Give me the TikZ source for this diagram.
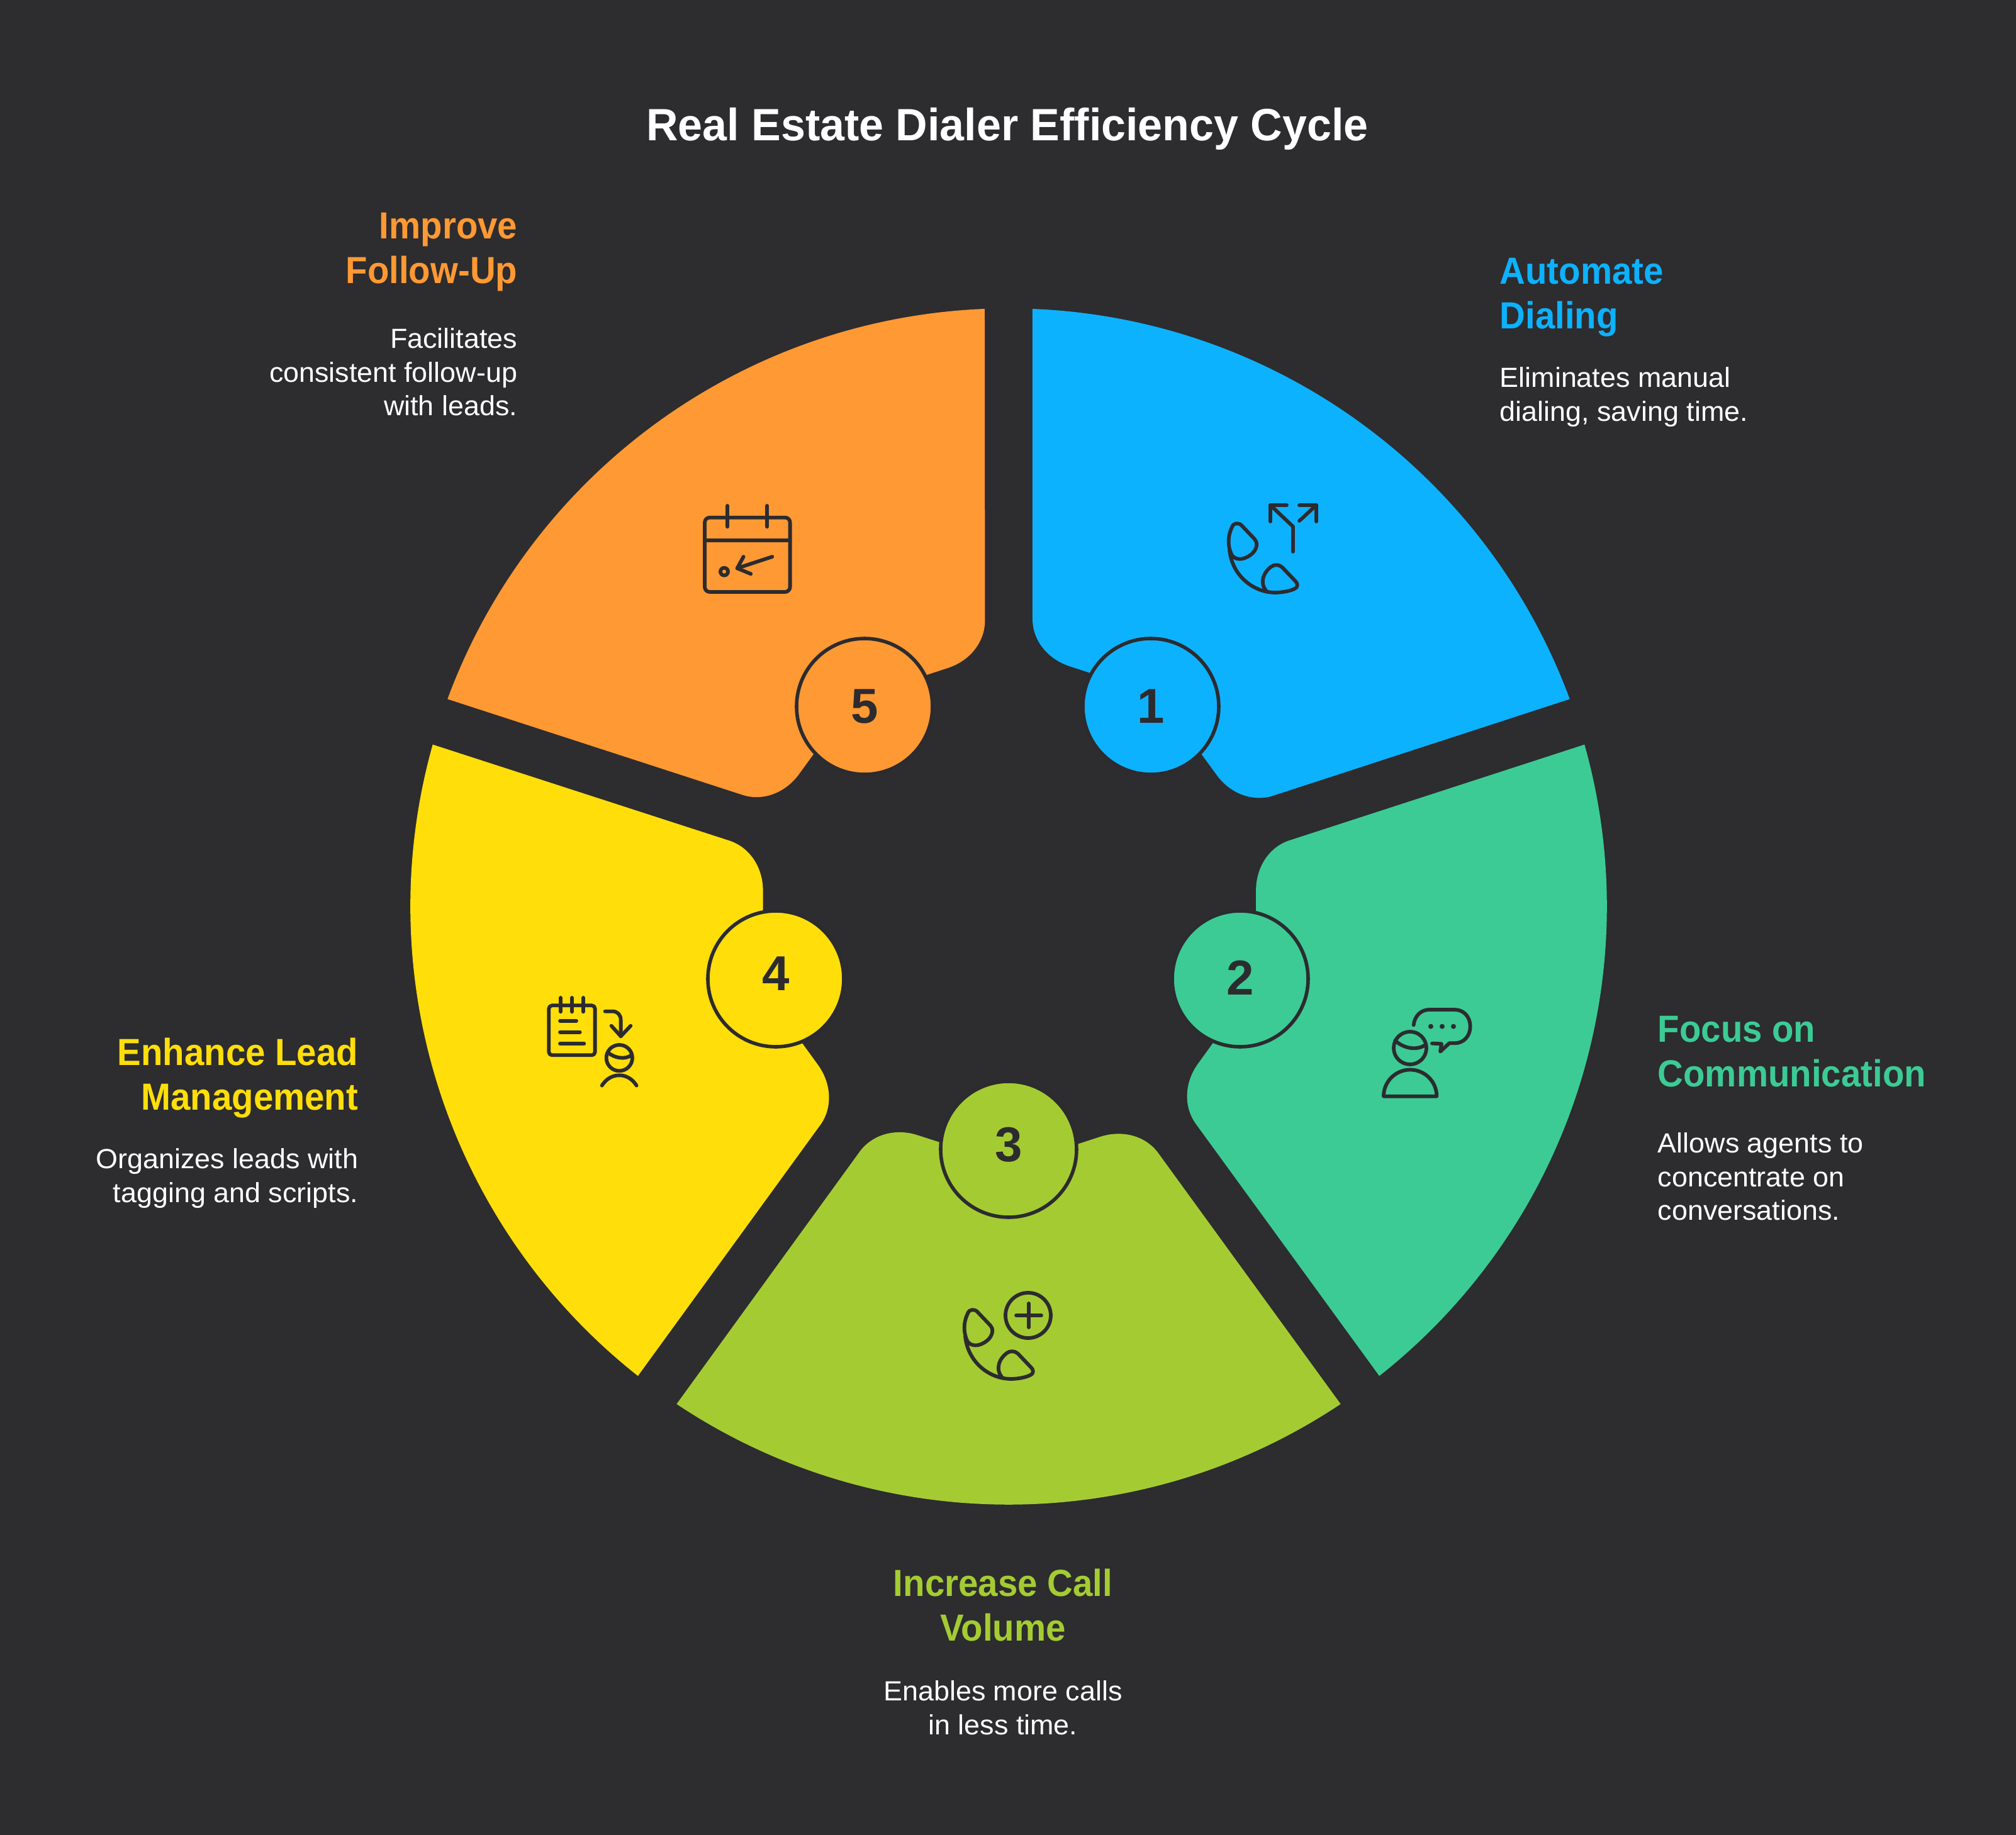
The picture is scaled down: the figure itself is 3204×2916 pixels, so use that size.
\documentclass[tikz,border=0pt]{standalone}
\usepackage{fontspec}
\setmainfont{Liberation Sans}
\newfontfamily\titlefont[FakeStretch=0.972]{Liberation Sans}
\newfontfamily\headfont[FakeStretch=0.94]{Liberation Sans}
\newfontfamily\bodyfont[FakeStretch=1.02]{Liberation Sans}
\usepackage{tikz}
\definecolor{backdrop}{HTML}{2D2C2F}
\definecolor{inkdark}{HTML}{2C2B2F}
\definecolor{bluesec}{HTML}{0DB2FF}
\definecolor{greensec}{HTML}{3CCB95}
\definecolor{limesec}{HTML}{A4CC32}
\definecolor{yellowsec}{HTML}{FFDE0A}
\definecolor{orangesec}{HTML}{FF9933}
\newcommand{\sectorpath}{(38,950) arc (87.71:20.29:950.76) -- (420,176) .. controls (388,166) and (352,179) .. (330,210) -- (238,336) -- (98,381.5) .. controls (62,393) and (38,423) .. (38,457) -- cycle}
\newcommand{\phonepath}{(58,113) .. controls (49,95) and (53,78) .. (58,68) .. controls (60,61) and (69,60) .. (74,66) -- (94,87) .. controls (99,92) and (98,101) .. (92,108) .. controls (84,117) and (67,124) .. (58,113) -- cycle
    (54,104) .. controls (58,145) and (92,172) .. (127,172) .. controls (140,172) and (158,168) .. (161,163) .. controls (163,159) and (161,156) .. (158,153) -- (138,132) .. controls (133,127) and (125,127) .. (120,131) .. controls (110,138) and (100,155) .. (113,170)}
\tikzset{numcircle/.style={draw=inkdark,circle,line width=1.4pt,minimum size=54pt,inner sep=0pt,text=inkdark,font=\fontsize{19.5}{22}\selectfont\bfseries}}
\tikzset{headtext/.style={inner sep=0pt,font=\headfont\fontsize{15}{17.9}\selectfont\bfseries}}
\tikzset{bodytext/.style={inner sep=0pt,text=white,font=\bodyfont\fontsize{11}{13.4}\selectfont}}
\tikzset{iconline/.style={draw=inkdark,line width=1.45pt,line cap=round,line join=round}}

\begin{document}
\begin{tikzpicture}[x=0.25pt, y=0.25pt]
    \useasboundingbox (-1603,1441) rectangle (1601,-1475);
    \fill[backdrop] (-1610,1450) rectangle (1610,-1485);
    % sectors
    \fill[bluesec] \sectorpath;
    \fill[greensec, rotate=-72] \sectorpath;
    \fill[limesec, rotate=-144] \sectorpath;
    \fill[yellowsec, rotate=-216] \sectorpath;
    \fill[orangesec, rotate=-288] \sectorpath;
    % numbers
    \node[numcircle, fill=bluesec] (num1) at (226,318) {1};
    \node[numcircle, fill=greensec] (num2) at (368,-115) {\raisebox{1pt}{2}};
    \node[numcircle, fill=limesec] (num3) at (0,-386) {\raisebox{4pt}{3}};
    \node[numcircle, fill=yellowsec] (num4) at (-370,-115) {\raisebox{4pt}{4}};
    \node[numcircle, fill=orangesec] (num5) at (-229,318) {5};
    % title
    \node[inner sep=0pt, anchor=north, text=white, font=\titlefont\fontsize{18}{22}\selectfont\bfseries] (title) at (-2,1270) {Real Estate Dialer Efficiency Cycle};
    % labels
    \node[headtext, text=bluesec, anchor=north west, align=left] (head1) at (780,1032) {Automate\\Dialing};
    \node[bodytext, anchor=north west, align=left] (body1) at (780,858) {Eliminates manual\\dialing, saving time.};
    \node[headtext, text=greensec, anchor=north west, align=left] (head2) at (1031,-173) {Focus on\\Communication};
    \node[bodytext, anchor=north west, align=left] (body2) at (1031,-359) {Allows agents to\\concentrate on\\conversations.};
    \node[headtext, text=limesec, anchor=north, align=center] (head3) at (-9,-1052) {Increase Call\\Volume};
    \node[bodytext, anchor=north, align=center] (body3) at (-9,-1230) {Enables more calls\\in less time.};
    \node[headtext, text=yellowsec, anchor=north east, align=right] (head4) at (-1033,-208) {Enhance Lead\\Management};
    \node[bodytext, anchor=north east, align=right] (body4) at (-1033,-384) {Organizes leads with\\tagging and scripts.};
    \node[headtext, text=orangesec, anchor=north east, align=right] (head5) at (-780,1104) {Improve\\Follow-Up};
    \node[bodytext, anchor=north east, align=right] (body5) at (-780,920) {Facilitates\\consistent follow-up\\with leads.};
    % icon 1
    \begin{scope}[iconline, shift={(297,671)}, yscale=-1]
        \draw \phonepath;
        \draw (155,107) -- (155,67) -- (119,33);
        \draw (119,59) -- (119,33) -- (145,33);
        \draw (165,58) -- (192,33);
        \draw (192,59) -- (192,33) -- (165,33);
    \end{scope}
    % icon 2
    \begin{scope}[iconline, shift={(497,-109)}, yscale=-1, scale=0.3333]
        \draw (297,578) -- (550,578) arc (0:-180:126.5) -- cycle;
        \draw (423,348) circle (78);
        \draw (352,312) .. controls (385,345) and (450,365) .. (498,332);
        \draw (440,238) .. controls (445,195) and (475,165) .. (515,165) -- (635,165) .. controls (680,165) and (710,200) .. (710,245) .. controls (710,290) and (680,325) .. (635,325) -- (610,325) -- (567,365) -- (573,328) -- (528,326);
        \fill[inkdark] (522,245) circle (12) (576,245) circle (12) (630,245) circle (12);
    \end{scope}
    % icon 3
    \begin{scope}[iconline, shift={(-123,-579)}, yscale=-1]
        \draw \phonepath;
        \draw (154,71) circle (36);
        \draw (135,71) -- (175,71);
        \draw (155,52) -- (155,90);
    \end{scope}
    % icon 4
    \begin{scope}[iconline, shift={(-763,-109)}, yscale=-1, scale=0.3333]
        \draw[rounded corners=1.25pt] (97,145) rectangle (317,382);
        \draw (153,108) -- (153,175) (207,108) -- (207,175) (261,108) -- (261,175);
        \draw (150,218) -- (228,218) (150,272) -- (245,272) (150,326) -- (265,326);
        \draw (365,173) -- (400,173) .. controls (425,173) and (440,190) .. (440,215) -- (440,292);
        \draw (395,242) -- (440,292) -- (487,242);
        \draw (433,395) circle (62);
        \draw (382,372) .. controls (410,395) and (460,405) .. (490,382);
        \draw (350,527) .. controls (370,495) and (400,478) .. (433,478) .. controls (465,478) and (495,495) .. (515,527);
    \end{scope}
    % icon 5
    \begin{scope}[iconline, shift={(-513,661)}, yscale=-1, scale=0.3333]
        \draw[rounded corners=2pt] (90,128) rectangle (497,483);
        \draw (90,238) -- (497,238);
        \draw (199,72) -- (199,172) (388,72) -- (388,172);
        \draw (183,386) circle (18);
        \draw (412,315) -- (245,370);
        \draw (275,315) -- (245,370) -- (310,397);
    \end{scope}
\end{tikzpicture}
\end{document}
